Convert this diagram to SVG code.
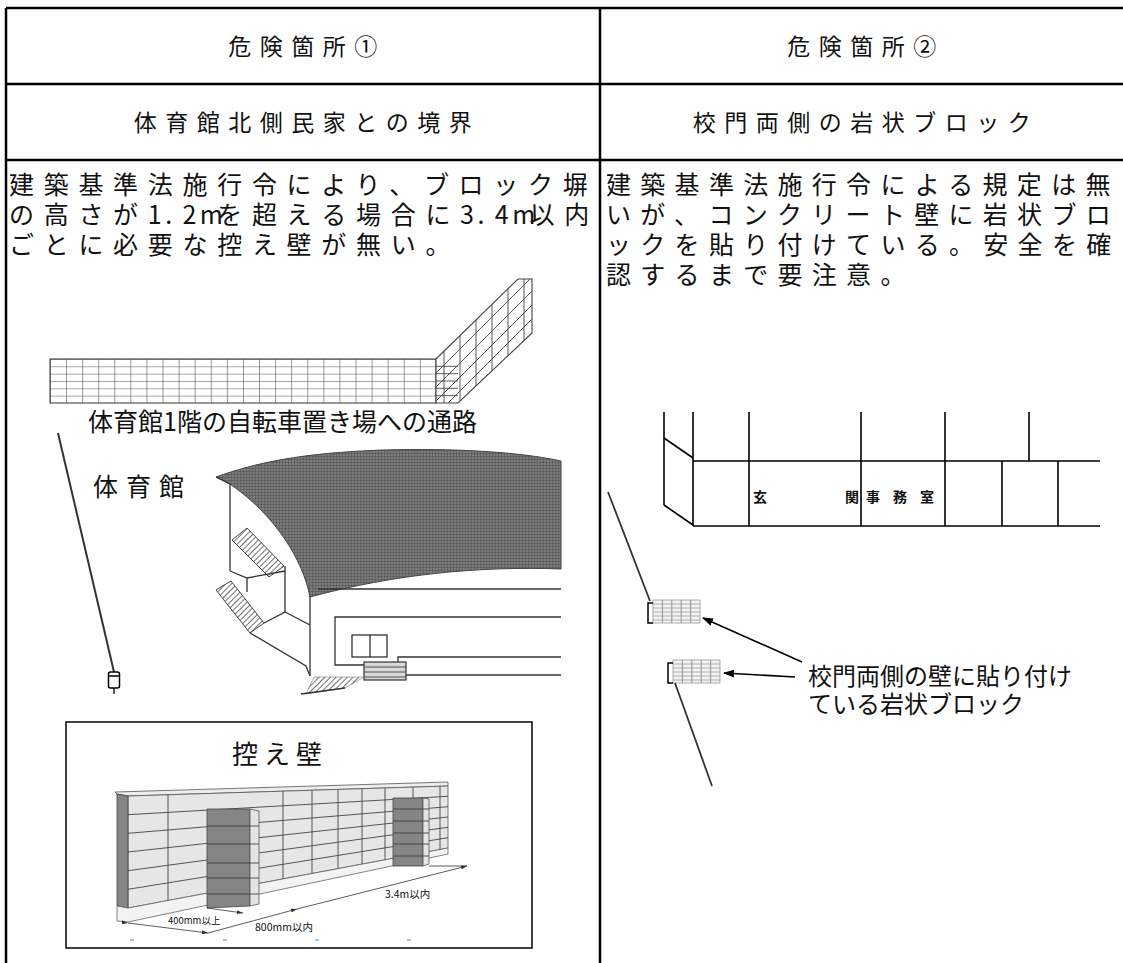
<svg xmlns="http://www.w3.org/2000/svg" xmlns:xlink="http://www.w3.org/1999/xlink" width="1123" height="963" viewBox="0 0 1123 963">
<style>
text{font-family:"Noto Sans CJK JP","Noto Sans",sans-serif;fill:#111}
.hd{font-size:23px;letter-spacing:8.5px;text-anchor:middle}
.bd{font-size:25px;letter-spacing:9.7px}
.bdr{font-size:25px;letter-spacing:9.3px}
.bd2{font-size:25px}
.tl{stroke:#000;stroke-width:2.5;fill:none}
.ln{stroke:#333;stroke-width:1.3;fill:none}
.bl{stroke:#000;stroke-width:1.6;fill:none}
.thin{stroke:#444;stroke-width:0.9;fill:none}
.dim{stroke:#333;stroke-width:0.8;fill:none}
.dk{fill:#858585;stroke:#444;stroke-width:0.8}
.lt{fill:#e4e4e4;stroke:#555;stroke-width:0.8}
</style>
<defs>
<pattern id="bandgrid" patternUnits="userSpaceOnUse" x="50" y="359" width="16.08" height="7.33">
<path d="M0,0 V7.33 M0,0 H16.08" stroke="#444" stroke-width="1.1" fill="none"/>
</pattern>
<pattern id="roofpat" patternUnits="userSpaceOnUse" width="3" height="3">
<rect width="3" height="3" fill="#7c7c7c"/>
<path d="M0,0 H3 M0,0 V3" stroke="#4a4a4a" stroke-width="0.9"/>
</pattern>
<pattern id="hatch" patternUnits="userSpaceOnUse" width="4" height="4" patternTransform="rotate(45)">
<rect width="4" height="4" fill="#fff"/>
<path d="M0,0 V4" stroke="#333" stroke-width="1.4"/>
</pattern>
<clipPath id="diagclip"><polygon points="436,359 518,279 532,279 532,333 458,403 436,403"/></clipPath>
<marker id="ah" markerUnits="userSpaceOnUse" markerWidth="11" markerHeight="8" refX="10" refY="4" orient="auto">
<path d="M0,0 L11,4 L0,8 Z" fill="#000"/>
</marker>
<marker id="da" markerUnits="userSpaceOnUse" markerWidth="6" markerHeight="4" refX="6" refY="2" orient="auto">
<path d="M0,0 L6,2 L0,4 Z" fill="#333"/>
</marker>
<g id="rockblock">
<rect x="0" y="0" width="47" height="23" fill="#f2f2f2" stroke="#999" stroke-width="0.8"/>
<path d="M9.4,0 V23 M18.8,0 V23 M28.2,0 V23 M37.6,0 V23" stroke="#888" stroke-width="0.9"/>
<path d="M0,4 H47 M0,8 H47 M0,12 H47 M0,16 H47 M0,20 H47" stroke="#a0a0a0" stroke-width="0.8"/>
<path d="M0,3 H-5 V23 H0" stroke="#000" stroke-width="1.5" fill="none"/>
</g>
</defs>

<rect width="1123" height="963" fill="#fff"/>

<g id="table">
<path class="tl" d="M6,8 H1123 M6,84 H1123 M6,160 H1123 M6,8 V963 M600,8 V963"/>
</g>

<g id="header1"><text class="hd" x="307" y="55">危険箇所①</text></g>
<g id="header2"><text class="hd" x="866" y="55">危険箇所②</text></g>
<g id="place1"><text class="hd" x="307" y="131">体育館北側民家との境界</text></g>
<g id="place2"><text class="hd" x="866" y="131">校門両側の岩状ブロック</text></g>

<g id="desc1">
<text class="bd" x="9" y="194">建築基準法施行令により、ブロック塀</text>
<text class="bd2" x="9 43.7 78.4 113.1 147.8 165.15 182.5 199.85 217.2 251.9 286.6 321.3 356 390.7 425.4 460.1 477.45 494.8 512.15 529.5 564.2" y="224">の高さが1.2mを超える場合に3.4m以内</text>
<text class="bd" x="9" y="254">ごとに必要な控え壁が無い。</text>
</g>

<g id="desc2">
<text class="bdr" x="606" y="194">建築基準法施行令による規定は無</text>
<text class="bdr" x="606" y="224">いが、コンクリート壁に岩状ブロ</text>
<text class="bdr" x="606" y="254">ックを貼り付けている。安全を確</text>
<text class="bdr" x="606" y="284">認するまで要注意。</text>
</g>

<g id="passage">
<rect x="50" y="359" width="386" height="44" fill="url(#bandgrid)" stroke="#444" stroke-width="1.1"/>
<polygon points="436,359 518,279 532,279 532,333 458,403 436,403" fill="#fff" stroke="#444" stroke-width="1.1"/>
<g clip-path="url(#diagclip)" class="thin">
<path d="M444,263 V413 M460,263 V413 M476,263 V413 M492,263 V413 M508,263 V413 M524,263 V413"/>
<path d="M406,403 L536,273 M420,403 L536,287 M434,403 L536,301 M448,403 L536,315 M462,403 L536,329 M476,403 L536,343"/>
<path d="M436,366.3 H458 M436,373.7 H458 M436,381 H458 M436,388.3 H458 M436,395.7 H458"/>
</g>
<text x="88" y="431" style="font-size:25px">体育館1階の自転車置き場への通路</text>
</g>

<g id="gym">
<path d="M216,477 C255,463 300,453 383,450 C455,448 520,452 561,461 L561,569 C480,566 395,574 310,597 C303,560 275,515 230,484 Z" fill="url(#roofpat)" stroke="#444" stroke-width="1"/>
<path class="ln" d="M216,477 L230,484 M230,484 V571"/>
<polygon points="232,540 247,528 284,566 269,577" fill="url(#hatch)" stroke="#444" stroke-width="1"/>
<path class="ln" d="M230,571 L247,578 L285,571 M285,566 V612 L264,623 M247,578 V592"/>
<polygon points="216,590 231,581 264,623 250,633" fill="url(#hatch)" stroke="#444" stroke-width="1"/>
<path class="ln" d="M250,633 L306,666 L310,676 M285,612 L310,625"/>
<path class="ln" d="M310,596 V676 M318,589 H561 M561,617 H335 V665 H398 V657 H561 M406,675 H561"/>
<rect x="352" y="635" width="35" height="22" fill="#fff" stroke="#333" stroke-width="1.3"/>
<path class="ln" d="M370,635 V657"/>
<rect x="364" y="662" width="42" height="18" fill="#d8d8d8" stroke="#333" stroke-width="1.2"/>
<path class="thin" d="M364,667 H406 M364,672 H406 M364,677 H406"/>
<polygon points="314,677 364,677 345,688 306,694" fill="url(#hatch)" stroke="#777" stroke-width="0.6"/>
<path class="ln" d="M301,694 L345,688"/>
</g>

<g id="gym-label"><text x="93" y="496" style="font-size:25px;letter-spacing:8px">体育館</text></g>

<g id="pole1">
<path d="M58,433 L114,672" stroke="#333" stroke-width="2" fill="none"/>
<rect x="108.5" y="672" width="11" height="16" rx="2" fill="#fff" stroke="#000" stroke-width="1.5"/>
<path d="M108.5,676 H119.5 M114,688 V694" stroke="#000" stroke-width="1.3"/>
</g>

<g id="buttress-box">
<rect x="66" y="722" width="466" height="226" fill="#fff" stroke="#000" stroke-width="1.5"/>
<text x="280" y="764" style="font-size:26px;letter-spacing:6px;text-anchor:middle">控え壁</text>
<g transform="translate(0,6)">
<path d="M115,786 L448,776 L448,780 L128,790 L117,788 Z" fill="#ededed" stroke="#555" stroke-width="0.8"/>
<path d="M128,790 L448,780 L448,842 L128,902 Z" fill="#e6e6e6" stroke="#555" stroke-width="0.8"/>
<path d="M117,788 L128,790 L128,902 L117,900 Z" class="dk"/>
<path d="M117,900 L128,902 L448,842 L448,848 L128,916 L117,915 Z" fill="#f3f3f3" stroke="#666" stroke-width="0.8"/>
<path class="thin" d="M128,808.7 L448,790.3 M128,827.3 L448,800.7 M128,846 L448,811 M128,864.7 L448,821.3 M128,883.3 L448,831.7"/>
<path class="thin" d="M168,788.8 V894.5 M283,785.2 V872.9 M312,784.3 V867.5 M338,783.4 V862.6 M362,782.7 V858.1 M385,782 V853.8 M413,781.1 V848.6 M440,780.3 V843.5"/>
<path d="M207,803 L250,803 L250,900 L207,902 Z" class="dk"/>
<path d="M250,803 L259,805 L259,898 L250,900 Z" class="lt"/>
<path class="thin" d="M207,820 H259 M207,838 H259 M207,857 H259 M207,872 H259 M207,888 H259"/>
<path d="M393,792 L423,792 L423,860 L393,860 Z" class="dk"/>
<path d="M423,792 L429,793 L429,858 L423,860 Z" class="lt"/>
<path class="thin" d="M393,803 H429 M393,815 H429 M393,827 H429 M393,838 H429 M393,850 H429"/>
<path class="dim" d="M128,917 L208,927" marker-start="url(#da)" marker-end="url(#da)"/>
<path class="dim" d="M208,927 L297,903" marker-end="url(#da)"/>
<path class="dim" d="M297,903 L467,860" marker-end="url(#da)"/>
<path class="dim" d="M207,902 L243,907" marker-end="url(#da)"/>
<path class="dim" d="M429,860 L467,860"/>
<text x="168" y="918" style="font-size:9.5px">400mm以上</text>
<text x="255" y="925" style="font-size:10.5px">800mm以内</text>
<text x="385" y="892" style="font-size:10.5px">3.4m以内</text>
<path d="M130,934 H134 M223,934 H227 M315,934 H319 M407,934 H411" stroke="#9cc8e8" stroke-width="2"/>
</g>
</g>

<g id="school-building">
<path class="bl" d="M664,412 V505 M693,412 V526 M749,412 V526 M861,412 V526 M945,412 V526 M1029,412 V461 M1002,461 V526 M1058,461 V526"/>
<path class="bl" d="M693,461 H1100 M693,526 H1100 M664,438 L693,458 M664,505 L693,525"/>
<text x="753" y="502" style="font-size:14px;font-weight:bold">玄</text>
<text x="845" y="502" style="font-size:14px;font-weight:bold">関</text>
<text x="866" y="502" style="font-size:14px;font-weight:bold;letter-spacing:13px">事務室</text>
</g>

<g id="rock-block-1">
<use xlink:href="#rockblock" x="653" y="600"/>
</g>
<g id="rock-block-2">
<use xlink:href="#rockblock" x="673" y="660"/>
</g>

<g id="rock-label">
<text x="808" y="685" style="font-size:24px">校門両側の壁に貼り付け</text>
<text x="808" y="713" style="font-size:24px">ている岩状ブロック</text>
</g>

<g id="connectors">
<path d="M608,492 L650,601" stroke="#333" stroke-width="1.8" fill="none"/>
<path d="M675,683 L712,786" stroke="#333" stroke-width="1.8" fill="none"/>
<path d="M802,662 L703,618" stroke="#000" stroke-width="1.6" fill="none" marker-end="url(#ah)"/>
<path d="M795,677 L724,673" stroke="#000" stroke-width="1.6" fill="none" marker-end="url(#ah)"/>
</g>
</svg>
